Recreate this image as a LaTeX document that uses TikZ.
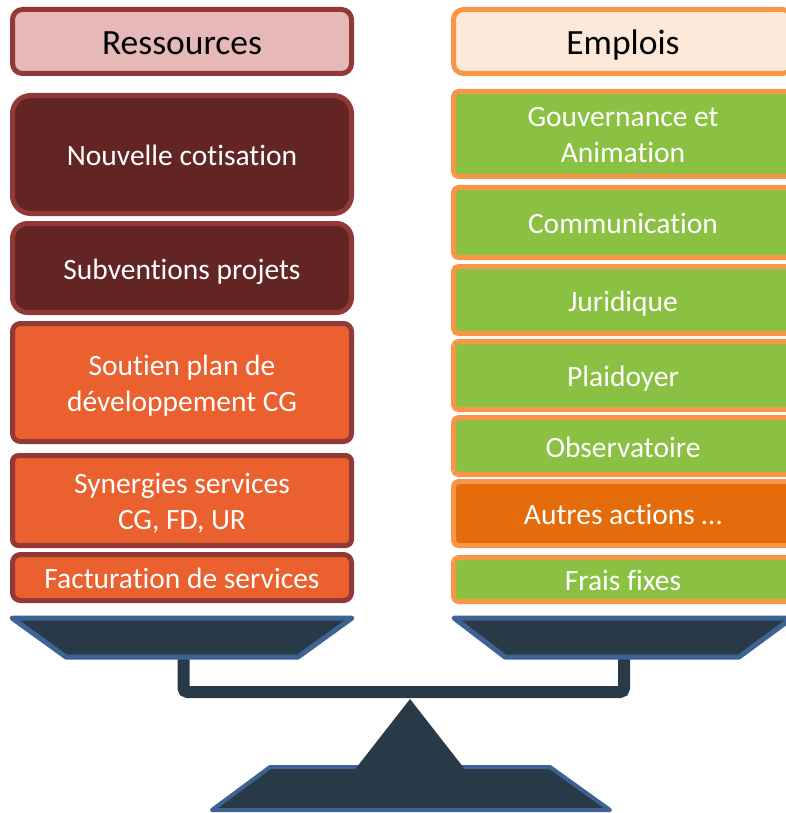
\documentclass[tikz,border=0pt]{standalone}
\usepackage{fontspec}
\setmainfont{Carlito}[Ligatures={NoCommon}]
\definecolor{bordres}{RGB}{146,56,54}
\definecolor{fondres}{RGB}{230,185,184}
\definecolor{bordeaux}{RGB}{99,37,35}
\definecolor{orangeres}{RGB}{234,96,46}
\definecolor{bordempl}{RGB}{247,150,70}
\definecolor{fondempl}{RGB}{253,233,217}
\definecolor{vertempl}{RGB}{139,193,66}
\definecolor{orangeempl}{RGB}{228,108,10}
\definecolor{socle}{RGB}{40,58,71}
\definecolor{bleusocle}{RGB}{62,99,146}
\begin{document}
\begin{tikzpicture}[x=1pt,y=-1pt,
    boite/.style={rectangle, line width=5pt, minimum width=339pt, inner sep=0pt, align=center},
    texte/.style={text=white, font=\fontsize{29.5}{36}\selectfont, text height=22pt, text depth=0pt},
    deuxlignes/.style={text height=58pt, text depth=0pt},
    titre/.style={text=black, font=\fontsize{35.5}{42}\selectfont, minimum height=64pt, rounded corners=10pt, text height=27pt, text depth=0pt},
    ress/.style={boite, draw=bordres},
    empl/.style={boite, draw=bordempl, rounded corners=5pt},
    plateau/.style={fill=socle, draw=bleusocle, line width=5pt, line join=round}]
  \useasboundingbox (0,0) rectangle (786,813); %Cadre
      %Fleau de la balance
  \draw[socle, line width=12pt, rounded corners=4pt] (183.5,657) -- (183.5,692) -- (624,692) -- (624,657);
      %Plateaux
  \draw[plateau] (12,618) -- (352,618) -- (298,657) -- (66,657) -- cycle; %Plateau gauche
  \draw[plateau] (454,618) -- (792,618) -- (739,657) -- (505,657) -- cycle; %Plateau droit
      %Pied
  \draw[plateau, line width=4pt] (270,767) -- (550,767) -- (610,810) -- (212,810) -- cycle;
  \fill[socle] (410,699) -- (467,772) -- (353,772) -- cycle;
      %Colonne ressources
  \node[ress, titre, fill=fondres] (ress) at (182,41.5) {Ressources};
  \node[ress, texte, fill=bordeaux, minimum height=118pt, rounded corners=18pt] (nouv) at (182,154.5) {Nouvelle cotisation};
  \node[ress, texte, fill=bordeaux, minimum height=89pt, rounded corners=15pt] (subv) at (182,268) {Subventions projets};
  \node[ress, texte, deuxlignes, fill=orangeres, minimum height=118pt, rounded corners=8pt] (sout) at (182,382.5) {Soutien plan de\\développement CG};
  \node[ress, texte, deuxlignes, fill=orangeres, minimum height=90pt, rounded corners=6pt] (syn) at (182,500.5) {Synergies services\\CG, FD, UR};
  \node[ress, texte, fill=orangeres, minimum height=46pt, rounded corners=8pt] (fact) at (182,577.5) {Facturation de services};
      %Colonne emplois
  \node[empl, titre, fill=fondempl] (empl) at (623,41.5) {Emplois};
  \node[empl, texte, deuxlignes, fill=vertempl, minimum height=85pt] (gouv) at (623,134) {Gouvernance et\\Animation};
  \node[empl, texte, fill=vertempl, minimum height=70pt] (comm) at (623,222.5) {Communication};
  \node[empl, texte, fill=vertempl, minimum height=67pt] (juri) at (623,300) {Juridique};
  \node[empl, texte, fill=vertempl, minimum height=68pt] (plai) at (623,375.5) {Plaidoyer};
  \node[empl, texte, fill=vertempl, minimum height=57pt] (obs) at (623,446) {Observatoire};
  \node[empl, texte, fill=orangeempl, minimum height=64pt] (autr) at (623,513.5) {Autres actions …};
  \node[empl, texte, fill=vertempl, minimum height=44pt] (frais) at (623,579.5) {Frais fixes};
\end{tikzpicture}
\end{document}
